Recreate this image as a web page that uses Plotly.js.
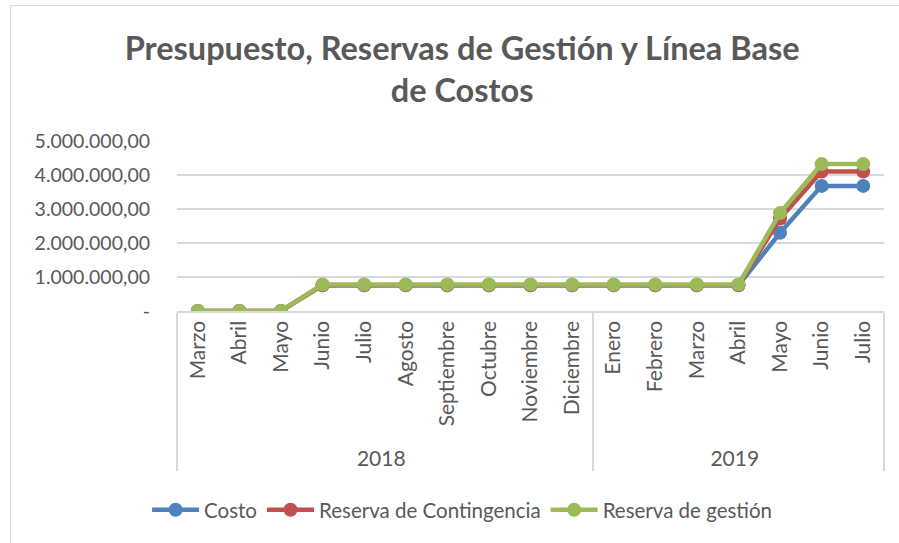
<!DOCTYPE html>
<html>
<head>
<meta charset="utf-8">
<script src="https://cdn.plot.ly/plotly-3.0.1.min.js"></script>
<style>
html,body{margin:0;padding:0;background:#fff;}
#chart{width:899px;height:543px;}
#frame{position:absolute;left:10px;top:5px;width:900px;height:560px;border:1px solid #d9d9d9;pointer-events:none;}
</style>
</head>
<body>
<div id="chart"></div>
<div id="frame"></div>
<script>
const years = ["2018","2018","2018","2018","2018","2018","2018","2018","2018","2018","2019","2019","2019","2019","2019","2019","2019"];
const months = ["Marzo","Abril","Mayo","Junio","Julio","Agosto","Septiembre","Octubre","Noviembre","Diciembre","Enero","Febrero","Marzo","Abril","Mayo","Junio","Julio"];
const costo = [0,0,0,755000,755000,755000,755000,755000,755000,755000,755000,755000,755000,755000,2300000,3680000,3680000];
const contingencia = [0,0,0,760000,760000,760000,760000,760000,760000,760000,760000,760000,760000,760000,2720000,4100000,4100000];
const gestion = [0,0,0,780000,780000,780000,780000,780000,780000,780000,780000,780000,780000,780000,2880000,4320000,4320000];
const seriesNames = ["Costo","Reserva de Contingencia","Reserva de gestión"];
const seriesColors = ["#4F81BD","#C0504D","#9BBB59"];
const yTickVals = [0,1000000,2000000,3000000,4000000,5000000];
const yTickText = ["-","1.000.000,00","2.000.000,00","3.000.000,00","4.000.000,00","5.000.000,00"];

// Month names repeat across years; make each inner category key unique
// (invisible zero-width suffix) so the multicategory axis keeps data order.
const seen = {};
const monthKeys = months.map(m => {
  seen[m] = (seen[m] || 0) + 1;
  return m + "\u200B".repeat(seen[m] - 1);
});

const FONT = "Lato, 'Open Sans', sans-serif";
const data = [costo, contingencia, gestion].map((vals, i) => ({
  type: "scatter",
  mode: "lines+markers",
  name: seriesNames[i],
  x: [years, monthKeys],
  y: vals,
  line: {color: seriesColors[i], width: 4.5},
  marker: {color: seriesColors[i], size: 14}
}));

const layout = {
  width: 899, height: 543,
  paper_bgcolor: "#fff", plot_bgcolor: "#fff",
  margin: {l: 177, r: 15, t: 141, b: 232},
  font: {family: FONT, color: "#595959", size: 20},
  title: {
    text: "<b>Presupuesto, Reservas de Gestión y Línea Base<br>de Costos</b>",
    font: {family: FONT, size: 32.5, color: "#595959"},
    x: 0.514, xanchor: "center", y: 0.89, yanchor: "middle"
  },
  xaxis: {
    type: "multicategory",
    range: [-0.5, months.length - 0.5],
    tickangle: -90,
    showgrid: false,
    showline: true, linecolor: "#d9d9d9", linewidth: 1.5,
    showdividers: true, dividercolor: "#d9d9d9", dividerwidth: 1.5,
    ticks: "",
    tickfont: {family: FONT, size: 21, color: "#595959"},
    zeroline: false
  },
  yaxis: {
    range: [0, 5000000],
    tickvals: yTickVals, ticktext: yTickText,
    showgrid: true, gridcolor: "#d9d9d9", gridwidth: 1.5,
    zeroline: false, showline: false,
    ticks: "", ticklen: 0, ticklabelstandoff: 26,
    tickfont: {family: FONT, size: 19.5, color: "#595959"}
  },
  legend: {
    orientation: "h",
    xref: "container", x: 0.514, xanchor: "center",
    yref: "container", y: 0.061, yanchor: "middle",
    font: {family: FONT, size: 20.5, color: "#595959"},
    itemwidth: 47
  },
  showlegend: true
};

Plotly.newPlot("chart", data, layout, {displayModeBar: false, staticPlot: true});
</script>
</body>
</html>
